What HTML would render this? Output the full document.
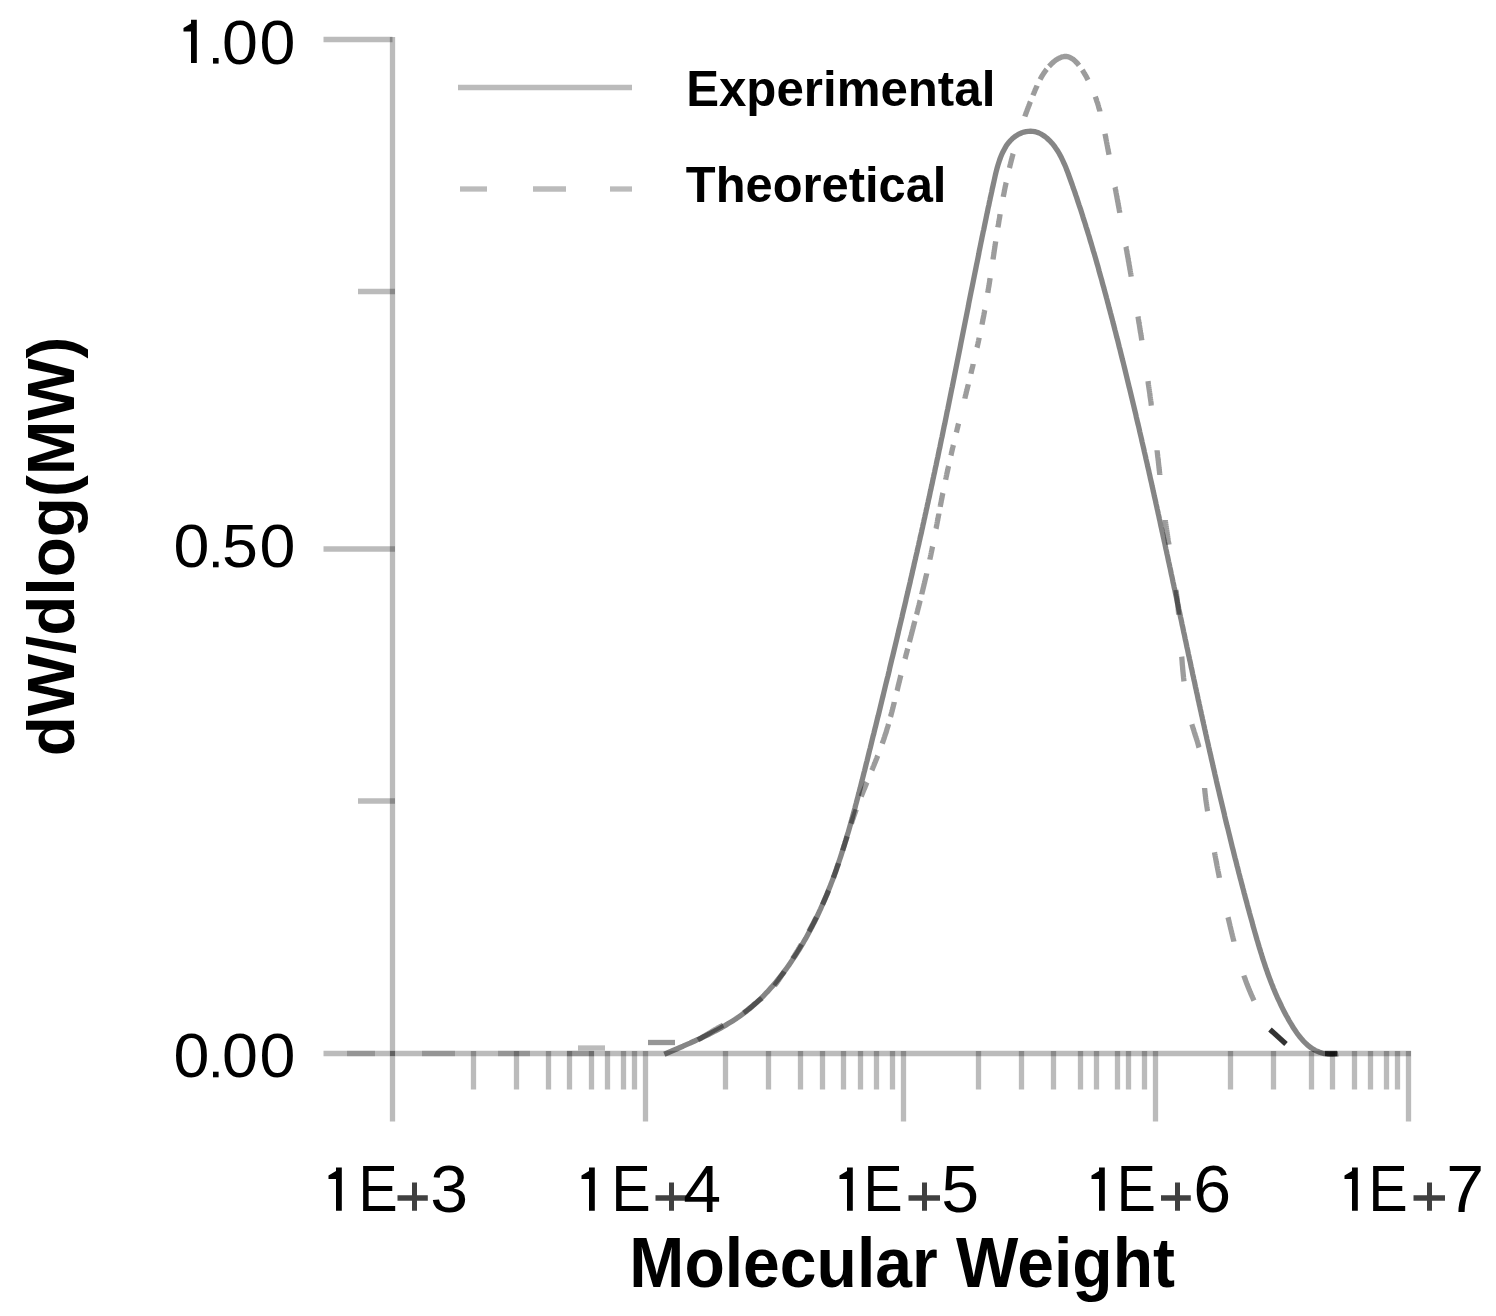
<!DOCTYPE html>
<html><head><meta charset="utf-8"><style>
html,body{margin:0;padding:0;background:#fff;}
svg{display:block;}
text{font-family:"Liberation Sans",sans-serif;fill:#000;}
.n{font-weight:normal;}
.b{font-weight:bold;}
</style></head><body>
<svg width="1496" height="1316" viewBox="0 0 1496 1316">
<rect width="1496" height="1316" fill="#fff"/>
<line x1="392.5" y1="37" x2="392.5" y2="1121.5" stroke="#000" stroke-opacity="0.267" stroke-width="5.3"/>
<line x1="323.5" y1="1053.5" x2="1411" y2="1053.5" stroke="#000" stroke-opacity="0.267" stroke-width="5.3"/>
<line x1="323.5" y1="39.5" x2="392.5" y2="39.5" stroke="#000" stroke-opacity="0.267" stroke-width="5.3"/>
<line x1="323.5" y1="549" x2="395" y2="549" stroke="#000" stroke-opacity="0.267" stroke-width="5.3"/>
<line x1="358" y1="291.5" x2="395" y2="291.5" stroke="#000" stroke-opacity="0.267" stroke-width="5.3"/>
<line x1="358" y1="801" x2="395" y2="801" stroke="#000" stroke-opacity="0.267" stroke-width="5.3"/>
<line x1="645.5" y1="1051" x2="645.5" y2="1121.5" stroke="#000" stroke-opacity="0.267" stroke-width="5.3"/>
<line x1="903.5" y1="1051" x2="903.5" y2="1121.5" stroke="#000" stroke-opacity="0.267" stroke-width="5.3"/>
<line x1="1155.5" y1="1051" x2="1155.5" y2="1121.5" stroke="#000" stroke-opacity="0.267" stroke-width="5.3"/>
<line x1="1408.5" y1="1051" x2="1408.5" y2="1121.5" stroke="#000" stroke-opacity="0.267" stroke-width="5.3"/>
<rect x="390" y="1051" width="5" height="5" fill="#606060"/>
<line x1="473.5" y1="1051" x2="473.5" y2="1089.5" stroke="#000" stroke-opacity="0.267" stroke-width="5.3"/>
<line x1="516.5" y1="1051" x2="516.5" y2="1089.5" stroke="#000" stroke-opacity="0.267" stroke-width="5.3"/>
<line x1="548.5" y1="1051" x2="548.5" y2="1089.5" stroke="#000" stroke-opacity="0.267" stroke-width="5.3"/>
<line x1="569.5" y1="1051" x2="569.5" y2="1089.5" stroke="#000" stroke-opacity="0.267" stroke-width="5.3"/>
<line x1="591.5" y1="1051" x2="591.5" y2="1089.5" stroke="#000" stroke-opacity="0.267" stroke-width="5.3"/>
<line x1="607.5" y1="1051" x2="607.5" y2="1089.5" stroke="#000" stroke-opacity="0.267" stroke-width="5.3"/>
<line x1="623.5" y1="1051" x2="623.5" y2="1089.5" stroke="#000" stroke-opacity="0.267" stroke-width="5.3"/>
<line x1="634.5" y1="1051" x2="634.5" y2="1089.5" stroke="#000" stroke-opacity="0.267" stroke-width="5.3"/>
<line x1="725.5" y1="1051" x2="725.5" y2="1089.5" stroke="#000" stroke-opacity="0.267" stroke-width="5.3"/>
<line x1="768.5" y1="1051" x2="768.5" y2="1089.5" stroke="#000" stroke-opacity="0.267" stroke-width="5.3"/>
<line x1="800.5" y1="1051" x2="800.5" y2="1089.5" stroke="#000" stroke-opacity="0.267" stroke-width="5.3"/>
<line x1="822.5" y1="1051" x2="822.5" y2="1089.5" stroke="#000" stroke-opacity="0.267" stroke-width="5.3"/>
<line x1="843.5" y1="1051" x2="843.5" y2="1089.5" stroke="#000" stroke-opacity="0.267" stroke-width="5.3"/>
<line x1="860.5" y1="1051" x2="860.5" y2="1089.5" stroke="#000" stroke-opacity="0.267" stroke-width="5.3"/>
<line x1="876.5" y1="1051" x2="876.5" y2="1089.5" stroke="#000" stroke-opacity="0.267" stroke-width="5.3"/>
<line x1="892.5" y1="1051" x2="892.5" y2="1089.5" stroke="#000" stroke-opacity="0.267" stroke-width="5.3"/>
<line x1="978.5" y1="1051" x2="978.5" y2="1089.5" stroke="#000" stroke-opacity="0.267" stroke-width="5.3"/>
<line x1="1021.5" y1="1051" x2="1021.5" y2="1089.5" stroke="#000" stroke-opacity="0.267" stroke-width="5.3"/>
<line x1="1053.5" y1="1051" x2="1053.5" y2="1089.5" stroke="#000" stroke-opacity="0.267" stroke-width="5.3"/>
<line x1="1080.5" y1="1051" x2="1080.5" y2="1089.5" stroke="#000" stroke-opacity="0.267" stroke-width="5.3"/>
<line x1="1096.5" y1="1051" x2="1096.5" y2="1089.5" stroke="#000" stroke-opacity="0.267" stroke-width="5.3"/>
<line x1="1117.5" y1="1051" x2="1117.5" y2="1089.5" stroke="#000" stroke-opacity="0.267" stroke-width="5.3"/>
<line x1="1128.5" y1="1051" x2="1128.5" y2="1089.5" stroke="#000" stroke-opacity="0.267" stroke-width="5.3"/>
<line x1="1144.5" y1="1051" x2="1144.5" y2="1089.5" stroke="#000" stroke-opacity="0.267" stroke-width="5.3"/>
<line x1="1230.5" y1="1051" x2="1230.5" y2="1089.5" stroke="#000" stroke-opacity="0.267" stroke-width="5.3"/>
<line x1="1273.5" y1="1051" x2="1273.5" y2="1089.5" stroke="#000" stroke-opacity="0.267" stroke-width="5.3"/>
<line x1="1311.5" y1="1051" x2="1311.5" y2="1089.5" stroke="#000" stroke-opacity="0.267" stroke-width="5.3"/>
<line x1="1332.5" y1="1051" x2="1332.5" y2="1089.5" stroke="#000" stroke-opacity="0.267" stroke-width="5.3"/>
<line x1="1354.5" y1="1051" x2="1354.5" y2="1089.5" stroke="#000" stroke-opacity="0.267" stroke-width="5.3"/>
<line x1="1370.5" y1="1051" x2="1370.5" y2="1089.5" stroke="#000" stroke-opacity="0.267" stroke-width="5.3"/>
<line x1="1386.5" y1="1051" x2="1386.5" y2="1089.5" stroke="#000" stroke-opacity="0.267" stroke-width="5.3"/>
<line x1="1397.5" y1="1051" x2="1397.5" y2="1089.5" stroke="#000" stroke-opacity="0.267" stroke-width="5.3"/>
<line x1="458" y1="87.5" x2="632" y2="87.5" stroke="#000" stroke-opacity="0.267" stroke-width="5.3"/>
<line x1="460" y1="189" x2="487" y2="189" stroke="#000" stroke-opacity="0.267" stroke-width="5.3"/>
<line x1="533" y1="189" x2="566" y2="189" stroke="#000" stroke-opacity="0.267" stroke-width="5.3"/>
<line x1="610" y1="189" x2="632" y2="189" stroke="#000" stroke-opacity="0.267" stroke-width="5.3"/>
<path d="M664.3,1054.2 L666.7,1053.2 L669.0,1052.2 L671.3,1051.2 L673.6,1050.2 L676.0,1049.2 L678.3,1048.2 L680.6,1047.2 L683.0,1046.2 L685.3,1045.1 L687.6,1044.1 L690.0,1043.1 L692.3,1042.0 L694.6,1041.0 L696.9,1039.9 L699.2,1038.9 L701.5,1037.8 L703.8,1036.7 L706.1,1035.6 L708.4,1034.5 L710.6,1033.4 L712.9,1032.2 L715.1,1031.0 L717.4,1029.9 L719.6,1028.7 L721.8,1027.4 L724.0,1026.2 L726.2,1024.9 L728.3,1023.6 L730.5,1022.3 L732.6,1021.0 L734.7,1019.6 L736.8,1018.2 L738.8,1016.8 L740.9,1015.3 L742.9,1013.9 L744.9,1012.3 L746.9,1010.8 L748.9,1009.2 L750.8,1007.6 L752.7,1006.0 L754.6,1004.3 L756.5,1002.6 L758.3,1000.9 L760.2,999.1 L762.0,997.4 L763.8,995.6 L765.5,993.7 L767.3,991.9 L769.0,990.0 L770.7,988.1 L772.4,986.2 L774.1,984.3 L775.7,982.4 L777.3,980.4 L778.9,978.4 L780.5,976.4 L782.1,974.4 L783.6,972.4 L785.1,970.3 L786.6,968.3 L788.1,966.2 L789.6,964.1 L791.0,962.0 L792.4,959.9 L793.8,957.8 L795.2,955.7 L796.6,953.6 L798.0,951.4 L799.3,949.3 L800.6,947.1 L801.9,944.9 L803.2,942.8 L804.4,940.6 L805.7,938.4 L806.9,936.2 L808.1,934.0 L809.3,931.8 L810.5,929.5 L811.7,927.3 L812.8,925.0 L814.0,922.8 L815.1,920.5 L816.2,918.3 L817.3,916.0 L818.4,913.7 L819.4,911.4 L820.5,909.1 L821.5,906.8 L822.5,904.5 L823.5,902.2 L824.5,899.9 L825.5,897.5 L826.5,895.2 L827.5,892.9 L828.4,890.5 L829.3,888.2 L830.3,885.8 L831.2,883.4 L832.1,881.1 L833.0,878.7 L833.8,876.3 L834.7,873.9 L835.6,871.5 L836.4,869.1 L837.2,866.7 L838.1,864.3 L838.9,861.9 L839.7,859.5 L840.5,857.1 L841.3,854.6 L842.1,852.2 L842.8,849.8 L843.6,847.3 L844.4,844.9 L845.1,842.4 L845.9,840.0 L846.6,837.5 L847.3,835.1 L848.1,832.6 L848.8,830.2 L849.5,827.7 L850.2,825.2 L850.9,822.8 L851.6,820.3 L852.3,817.8 L852.9,815.4 L853.6,812.9 L854.3,810.4 L855.0,807.9 L855.6,805.4 L856.3,802.9 L856.9,800.5 L857.6,798.0 L858.2,795.5 L858.9,793.0 L859.5,790.5 L860.2,788.0 L860.8,785.5 L861.4,783.0 L862.1,780.5 L862.7,778.0 L863.3,775.6 L863.9,773.1 L864.6,770.6 L865.2,768.1 L865.8,765.6 L866.4,763.1 L867.1,760.6 L867.7,758.1 L868.3,755.6 L868.9,753.1 L869.5,750.6 L870.2,748.1 L870.8,745.7 L871.4,743.2 L872.0,740.7 L872.6,738.2 L873.2,735.7 L873.9,733.2 L874.5,730.7 L875.1,728.2 L875.7,725.8 L876.3,723.3 L876.9,720.8 L877.5,718.3 L878.2,715.8 L878.8,713.3 L879.4,710.9 L880.0,708.4 L880.6,705.9 L881.2,703.4 L881.8,700.9 L882.4,698.4 L883.0,696.0 L883.6,693.5 L884.2,691.0 L884.8,688.5 L885.4,686.0 L886.0,683.5 L886.6,681.1 L887.2,678.6 L887.9,676.1 L888.5,673.6 L889.1,671.1 L889.6,668.7 L890.2,666.2 L890.8,663.7 L891.4,661.2 L892.0,658.7 L892.6,656.3 L893.2,653.8 L893.8,651.3 L894.4,648.8 L895.0,646.3 L895.6,643.8 L896.2,641.4 L896.8,638.9 L897.4,636.4 L898.0,633.9 L898.5,631.4 L899.1,629.0 L899.7,626.5 L900.3,624.0 L900.9,621.5 L901.5,619.0 L902.1,616.6 L902.6,614.1 L903.2,611.6 L903.8,609.1 L904.4,606.6 L905.0,604.2 L905.6,601.7 L906.1,599.2 L906.7,596.7 L907.3,594.2 L907.9,591.7 L908.4,589.3 L909.0,586.8 L909.6,584.3 L910.2,581.8 L910.7,579.3 L911.3,576.8 L911.9,574.4 L912.4,571.9 L913.0,569.4 L913.6,566.9 L914.1,564.4 L914.7,561.9 L915.3,559.4 L915.8,557.0 L916.4,554.5 L917.0,552.0 L917.5,549.5 L918.1,547.0 L918.7,544.5 L919.2,542.0 L919.8,539.5 L920.3,537.0 L920.9,534.6 L921.5,532.1 L922.0,529.6 L922.6,527.1 L923.1,524.6 L923.7,522.1 L924.2,519.6 L924.8,517.1 L925.3,514.6 L925.9,512.1 L926.4,509.6 L927.0,507.1 L927.5,504.6 L928.1,502.1 L928.6,499.6 L929.2,497.2 L929.7,494.7 L930.2,492.2 L930.8,489.7 L931.3,487.2 L931.9,484.7 L932.4,482.2 L932.9,479.7 L933.5,477.1 L934.0,474.6 L934.6,472.1 L935.1,469.6 L935.6,467.1 L936.2,464.6 L936.7,462.1 L937.2,459.6 L937.8,457.1 L938.3,454.6 L938.8,452.1 L939.3,449.6 L939.9,447.1 L940.4,444.6 L940.9,442.0 L941.4,439.5 L942.0,437.0 L942.5,434.5 L943.0,432.0 L943.5,429.5 L944.0,426.9 L944.6,424.4 L945.1,421.9 L945.6,419.4 L946.1,416.9 L946.6,414.4 L947.1,411.8 L947.7,409.3 L948.2,406.8 L948.7,404.3 L949.2,401.8 L949.7,399.2 L950.2,396.7 L950.7,394.2 L951.2,391.7 L951.7,389.2 L952.3,386.6 L952.8,384.1 L953.3,381.6 L953.8,379.1 L954.3,376.6 L954.8,374.0 L955.3,371.5 L955.8,369.0 L956.3,366.5 L956.8,364.0 L957.3,361.4 L957.8,358.9 L958.3,356.4 L958.8,353.9 L959.3,351.4 L959.8,348.9 L960.3,346.4 L960.8,343.8 L961.3,341.3 L961.8,338.8 L962.3,336.3 L962.8,333.8 L963.3,331.3 L963.8,328.8 L964.3,326.3 L964.8,323.8 L965.3,321.3 L965.8,318.8 L966.3,316.3 L966.8,313.8 L967.3,311.3 L967.8,308.8 L968.3,306.3 L968.7,303.8 L969.2,301.3 L969.7,298.8 L970.2,296.3 L970.7,293.8 L971.2,291.3 L971.7,288.9 L972.2,286.4 L972.7,283.9 L973.2,281.4 L973.7,278.9 L974.2,276.5 L974.7,274.0 L975.2,271.5 L975.7,269.1 L976.2,266.6 L976.7,264.1 L977.2,261.7 L977.7,259.2 L978.2,256.7 L978.7,254.3 L979.1,251.8 L979.6,249.4 L980.1,246.9 L980.6,244.5 L981.1,242.0 L981.6,239.6 L982.1,237.1 L982.6,234.7 L983.1,232.2 L983.7,229.8 L984.2,227.3 L984.7,224.8 L985.2,222.4 L985.7,219.9 L986.2,217.4 L986.7,214.9 L987.3,212.4 L987.8,209.8 L988.3,207.3 L988.9,204.8 L989.4,202.2 L990.0,199.6 L990.5,197.1 L991.1,194.5 L991.7,191.8 L992.2,189.2 L992.8,186.6 L993.4,183.9 L994.0,181.2 L994.6,178.5 L995.2,175.8 L995.8,173.1 L996.5,170.4 L997.2,167.8 L998.0,165.1 L998.8,162.5 L999.6,160.0 L1000.5,157.5 L1001.5,155.1 L1002.5,152.7 L1003.7,150.4 L1004.9,148.2 L1006.1,146.1 L1007.5,144.1 L1009.0,142.2 L1010.5,140.5 L1012.2,138.8 L1014.0,137.3 L1015.8,135.9 L1017.8,134.7 L1019.8,133.7 L1021.9,132.8 L1024.0,132.1 L1026.1,131.6 L1028.3,131.3 L1030.5,131.2 L1032.6,131.3 L1034.8,131.6 L1036.9,132.2 L1039.0,133.0 L1041.0,134.0 L1043.0,135.2 L1044.9,136.5 L1046.8,138.0 L1048.6,139.7 L1050.4,141.4 L1052.0,143.2 L1053.6,145.2 L1055.1,147.2 L1056.5,149.2 L1057.9,151.3 L1059.2,153.5 L1060.4,155.8 L1061.6,158.1 L1062.7,160.4 L1063.8,162.8 L1064.9,165.2 L1065.9,167.6 L1066.8,170.0 L1067.8,172.5 L1068.7,175.0 L1069.6,177.5 L1070.5,180.0 L1071.4,182.5 L1072.3,185.0 L1073.1,187.5 L1074.0,189.9 L1074.9,192.4 L1075.7,194.9 L1076.6,197.4 L1077.4,199.9 L1078.2,202.3 L1079.0,204.8 L1079.9,207.3 L1080.7,209.7 L1081.5,212.2 L1082.3,214.7 L1083.0,217.1 L1083.8,219.6 L1084.6,222.0 L1085.4,224.5 L1086.1,227.0 L1086.9,229.4 L1087.7,231.9 L1088.4,234.3 L1089.2,236.8 L1089.9,239.2 L1090.6,241.7 L1091.4,244.1 L1092.1,246.6 L1092.8,249.0 L1093.5,251.5 L1094.3,253.9 L1095.0,256.4 L1095.7,258.8 L1096.4,261.2 L1097.1,263.7 L1097.8,266.1 L1098.5,268.6 L1099.1,271.0 L1099.8,273.5 L1100.5,275.9 L1101.2,278.4 L1101.9,280.8 L1102.5,283.3 L1103.2,285.7 L1103.9,288.1 L1104.5,290.6 L1105.2,293.0 L1105.9,295.5 L1106.5,297.9 L1107.2,300.4 L1107.8,302.8 L1108.5,305.3 L1109.1,307.8 L1109.8,310.2 L1110.4,312.7 L1111.1,315.1 L1111.7,317.6 L1112.4,320.0 L1113.0,322.5 L1113.7,325.0 L1114.3,327.4 L1114.9,329.9 L1115.6,332.4 L1116.2,334.8 L1116.8,337.3 L1117.5,339.7 L1118.1,342.2 L1118.7,344.7 L1119.3,347.2 L1120.0,349.6 L1120.6,352.1 L1121.2,354.6 L1121.8,357.0 L1122.4,359.5 L1123.1,362.0 L1123.7,364.5 L1124.3,366.9 L1124.9,369.4 L1125.5,371.9 L1126.1,374.4 L1126.7,376.8 L1127.3,379.3 L1127.9,381.8 L1128.5,384.3 L1129.1,386.8 L1129.7,389.2 L1130.3,391.7 L1130.9,394.2 L1131.5,396.7 L1132.1,399.2 L1132.7,401.7 L1133.3,404.1 L1133.9,406.6 L1134.5,409.1 L1135.1,411.6 L1135.7,414.1 L1136.2,416.6 L1136.8,419.1 L1137.4,421.6 L1138.0,424.0 L1138.6,426.5 L1139.2,429.0 L1139.7,431.5 L1140.3,434.0 L1140.9,436.5 L1141.5,439.0 L1142.0,441.5 L1142.6,444.0 L1143.2,446.5 L1143.8,449.0 L1144.3,451.5 L1144.9,454.0 L1145.5,456.5 L1146.0,459.0 L1146.6,461.5 L1147.2,464.0 L1147.7,466.4 L1148.3,468.9 L1148.9,471.4 L1149.4,473.9 L1150.0,476.4 L1150.5,478.9 L1151.1,481.4 L1151.7,483.9 L1152.2,486.4 L1152.8,488.9 L1153.3,491.4 L1153.9,493.9 L1154.4,496.4 L1155.0,498.9 L1155.6,501.4 L1156.1,504.0 L1156.7,506.5 L1157.2,509.0 L1157.8,511.5 L1158.3,514.0 L1158.9,516.5 L1159.4,519.0 L1160.0,521.5 L1160.5,524.0 L1161.0,526.5 L1161.6,529.0 L1162.1,531.5 L1162.7,534.0 L1163.2,536.5 L1163.8,539.0 L1164.3,541.5 L1164.9,544.0 L1165.4,546.5 L1165.9,549.0 L1166.5,551.5 L1167.0,554.0 L1167.6,556.5 L1168.1,559.0 L1168.6,561.5 L1169.2,564.0 L1169.7,566.5 L1170.3,569.0 L1170.8,571.6 L1171.3,574.1 L1171.9,576.6 L1172.4,579.1 L1172.9,581.6 L1173.5,584.1 L1174.0,586.6 L1174.6,589.1 L1175.1,591.6 L1175.6,594.1 L1176.2,596.6 L1176.7,599.1 L1177.2,601.6 L1177.8,604.1 L1178.3,606.6 L1178.8,609.1 L1179.4,611.6 L1179.9,614.1 L1180.4,616.6 L1181.0,619.1 L1181.5,621.6 L1182.0,624.1 L1182.6,626.6 L1183.1,629.1 L1183.6,631.6 L1184.2,634.1 L1184.7,636.6 L1185.2,639.1 L1185.8,641.6 L1186.3,644.1 L1186.8,646.6 L1187.4,649.1 L1187.9,651.6 L1188.4,654.1 L1189.0,656.6 L1189.5,659.1 L1190.1,661.6 L1190.6,664.1 L1191.1,666.6 L1191.7,669.1 L1192.2,671.6 L1192.7,674.1 L1193.3,676.6 L1193.8,679.1 L1194.4,681.6 L1194.9,684.1 L1195.4,686.6 L1196.0,689.1 L1196.5,691.6 L1197.1,694.1 L1197.6,696.6 L1198.1,699.1 L1198.7,701.6 L1199.2,704.1 L1199.8,706.6 L1200.3,709.1 L1200.9,711.6 L1201.4,714.1 L1202.0,716.6 L1202.5,719.1 L1203.1,721.5 L1203.6,724.0 L1204.2,726.5 L1204.7,729.0 L1205.3,731.5 L1205.8,734.0 L1206.4,736.5 L1206.9,739.0 L1207.5,741.5 L1208.1,744.0 L1208.6,746.5 L1209.2,749.0 L1209.7,751.4 L1210.3,753.9 L1210.9,756.4 L1211.4,758.9 L1212.0,761.4 L1212.6,763.9 L1213.1,766.4 L1213.7,768.9 L1214.3,771.4 L1214.8,773.8 L1215.4,776.3 L1216.0,778.8 L1216.5,781.3 L1217.1,783.8 L1217.7,786.3 L1218.3,788.8 L1218.9,791.3 L1219.4,793.7 L1220.0,796.2 L1220.6,798.7 L1221.2,801.2 L1221.8,803.7 L1222.4,806.2 L1223.0,808.6 L1223.6,811.1 L1224.2,813.6 L1224.7,816.1 L1225.3,818.6 L1225.9,821.1 L1226.5,823.5 L1227.1,826.0 L1227.8,828.5 L1228.4,831.0 L1229.0,833.5 L1229.6,835.9 L1230.2,838.4 L1230.8,840.9 L1231.4,843.4 L1232.0,845.9 L1232.6,848.3 L1233.3,850.8 L1233.9,853.3 L1234.5,855.8 L1235.1,858.2 L1235.8,860.7 L1236.4,863.2 L1237.0,865.7 L1237.7,868.1 L1238.3,870.6 L1238.9,873.1 L1239.6,875.6 L1240.2,878.0 L1240.9,880.5 L1241.5,883.0 L1242.2,885.5 L1242.8,887.9 L1243.5,890.4 L1244.1,892.9 L1244.8,895.3 L1245.4,897.8 L1246.1,900.3 L1246.8,902.8 L1247.4,905.2 L1248.1,907.7 L1248.8,910.2 L1249.4,912.6 L1250.1,915.1 L1250.8,917.6 L1251.5,920.0 L1252.2,922.5 L1252.8,925.0 L1253.5,927.4 L1254.2,929.9 L1254.9,932.4 L1255.6,934.8 L1256.3,937.3 L1257.0,939.7 L1257.8,942.2 L1258.5,944.7 L1259.2,947.1 L1260.0,949.6 L1260.7,952.0 L1261.5,954.4 L1262.2,956.9 L1263.0,959.3 L1263.8,961.8 L1264.6,964.2 L1265.4,966.6 L1266.2,969.0 L1267.1,971.4 L1267.9,973.8 L1268.8,976.2 L1269.7,978.6 L1270.6,981.0 L1271.5,983.4 L1272.5,985.8 L1273.4,988.2 L1274.4,990.5 L1275.4,992.9 L1276.4,995.2 L1277.4,997.6 L1278.5,999.9 L1279.6,1002.2 L1280.7,1004.5 L1281.8,1006.9 L1282.9,1009.1 L1284.1,1011.4 L1285.3,1013.7 L1286.5,1016.0 L1287.8,1018.2 L1289.0,1020.5 L1290.3,1022.7 L1291.7,1024.9 L1293.0,1027.2 L1294.4,1029.3 L1295.9,1031.5 L1297.3,1033.6 L1298.9,1035.6 L1300.4,1037.6 L1302.1,1039.5 L1303.7,1041.4 L1305.5,1043.1 L1307.3,1044.8 L1309.2,1046.3 L1311.1,1047.8 L1313.1,1049.1 L1315.2,1050.3 L1317.4,1051.3 L1319.7,1052.2 L1322.0,1053.0 L1324.4,1053.6 L1327.0,1054.0 L1329.6,1054.3 L1332.4,1054.3 L1335.2,1054.2 L1338.2,1053.8" fill="none" stroke="#000" stroke-opacity="0.48" stroke-width="5.3" stroke-linejoin="round"/>
<path d="M347,1053.5 H375 M422,1053.5 H455 M498,1053.5 H530 M567,1053.5 H594" fill="none" stroke="#000" stroke-opacity="0.2" stroke-width="5.3"/>
<path d="M578,1048 H605" fill="none" stroke="#848484" stroke-opacity="0.55" stroke-width="5.3"/>
<path d="M648,1042.5 H675" fill="none" stroke="#848484" stroke-opacity="0.85" stroke-width="5.3"/>
<path d="M1049.0,66.4 L1049.5,65.9 L1050.0,65.3 L1050.5,64.8 L1051.0,64.3 L1051.5,63.8 L1052.1,63.3 L1052.6,62.8 L1053.1,62.4 L1053.6,61.9 L1054.2,61.5 L1054.7,61.0 L1055.2,60.6 L1055.8,60.2 L1056.3,59.8 L1056.8,59.5 L1057.4,59.2 L1057.9,58.8 L1058.5,58.5 L1059.0,58.2 L1059.6,58.0 L1060.1,57.7 L1060.7,57.5 L1061.2,57.3 L1061.7,57.1 L1062.3,56.9 L1062.8,56.8 L1063.4,56.7 L1063.9,56.6 L1064.4,56.5 L1065.0,56.5 L1065.5,56.5 L1066.0,56.5 L1066.6,56.5 L1067.1,56.6 L1067.6,56.7 L1068.1,56.8 L1068.6,57.0 L1069.1,57.1 L1069.7,57.3 L1070.2,57.6 L1070.6,57.8 L1071.1,58.1 L1071.6,58.3 L1072.1,58.7 L1072.6,59.0 L1073.1,59.3 L1073.6,59.7 L1074.0,60.1 L1074.5,60.5 L1075.0,60.9 L1075.4,61.3 L1075.9,61.8 L1076.3,62.3 L1076.8,62.7 L1077.2,63.2 L1077.7,63.7 L1078.1,64.3 L1078.6,64.8 L1079.0,65.3 M1040.1,79.5 L1040.4,78.9 L1040.7,78.3 L1041.1,77.7 L1041.4,77.0 L1041.8,76.4 L1042.1,75.8 L1042.5,75.2 L1042.9,74.6 L1043.3,74.0 L1043.7,73.4 L1044.1,72.8 L1044.5,72.2 L1044.9,71.6 L1045.3,71.0 L1045.8,70.4 L1046.2,69.8 L1046.7,69.2 M1033.0,95.4 L1033.2,94.8 L1033.5,94.1 L1033.7,93.5 L1034.0,92.9 L1034.2,92.3 L1034.5,91.7 L1034.7,91.1 L1035.0,90.4 L1035.3,89.8 L1035.5,89.2 L1035.8,88.6 L1036.1,88.0 L1036.3,87.4 L1036.6,86.8 L1036.9,86.2 L1037.1,85.6 M1024.8,116.6 L1025.0,115.9 L1025.3,115.3 L1025.5,114.7 L1025.7,114.1 L1026.0,113.4 L1026.2,112.8 L1026.4,112.2 L1026.6,111.5 L1026.9,110.9 L1027.1,110.3 L1027.3,109.7 L1027.6,109.0 L1027.8,108.4 L1028.1,107.8 L1028.3,107.2 L1028.5,106.5 L1028.8,105.9 L1029.0,105.3 L1029.3,104.7 L1029.5,104.0 L1029.7,103.4 L1030.0,102.8 L1030.2,102.2 L1030.5,101.6 M1009.4,168.0 L1009.6,167.3 L1009.8,166.7 L1009.9,166.0 L1010.1,165.4 L1010.2,164.7 L1010.4,164.1 L1010.6,163.4 L1010.7,162.8 L1010.9,162.1 L1011.1,161.5 L1011.2,160.8 L1011.4,160.2 L1011.6,159.5 L1011.7,158.9 L1011.9,158.2 L1012.1,157.6 L1012.2,156.9 L1012.4,156.3 L1012.6,155.6 L1012.8,155.0 L1012.9,154.3 L1013.1,153.7 M1003.3,196.9 L1003.4,196.3 L1003.5,195.6 L1003.6,194.9 L1003.8,194.3 L1003.9,193.6 L1004.0,193.0 L1004.2,192.3 L1004.3,191.6 L1004.4,191.0 L1004.5,190.3 L1004.7,189.7 L1004.8,189.0 L1004.9,188.3 L1005.1,187.7 L1005.2,187.0 L1005.3,186.4 L1005.5,185.7 L1005.6,185.0 L1005.8,184.4 L1005.9,183.7 L1006.0,183.1 L1006.2,182.4 M997.9,227.4 L998.0,226.8 L998.1,226.1 L998.3,225.4 L998.4,224.8 L998.5,224.1 L998.6,223.5 L998.7,222.8 L998.8,222.1 L998.9,221.5 L999.0,220.8 L999.1,220.1 L999.2,219.5 L999.4,218.8 L999.5,218.1 L999.6,217.5 L999.7,216.8 L999.8,216.1 L999.9,215.5 L1000.0,214.8 L1000.1,214.1 M993.0,259.5 L993.1,258.8 L993.2,258.1 L993.3,257.5 L993.4,256.8 L993.5,256.1 L993.6,255.5 L993.7,254.8 L993.8,254.1 L993.9,253.4 L994.0,252.8 L994.1,252.1 L994.2,251.4 L994.3,250.8 L994.4,250.1 L994.5,249.4 L994.6,248.8 L994.7,248.1 L994.8,247.4 L994.9,246.8 L995.0,246.1 L995.1,245.4 L995.2,244.8 L995.3,244.1 L995.4,243.4 L995.5,242.8 L995.6,242.1 L995.7,241.4 M987.8,292.8 L987.9,292.1 L988.0,291.5 L988.1,290.8 L988.2,290.1 L988.3,289.5 L988.4,288.8 L988.5,288.1 L988.6,287.5 L988.8,286.8 L988.9,286.1 L989.0,285.5 L989.1,284.8 L989.2,284.1 L989.3,283.5 L989.4,282.8 L989.5,282.1 L989.6,281.5 L989.7,280.8 L989.8,280.1 L989.9,279.5 L990.0,278.8 L990.1,278.1 M982.0,324.6 L982.1,323.9 L982.2,323.3 L982.4,322.6 L982.5,322.0 L982.6,321.3 L982.8,320.6 L982.9,320.0 L983.0,319.3 L983.1,318.7 L983.3,318.0 L983.4,317.3 L983.5,316.7 L983.7,316.0 L983.8,315.3 L983.9,314.7 L984.0,314.0 L984.2,313.4 L984.3,312.7 L984.4,312.0 L984.5,311.4 L984.6,310.7 L984.8,310.0 M977.0,347.6 L977.2,347.0 L977.3,346.3 L977.5,345.6 L977.6,345.0 L977.8,344.3 L977.9,343.7 L978.1,343.0 L978.2,342.4 L978.4,341.7 L978.5,341.1 L978.6,340.4 L978.8,339.7 L978.9,339.1 L979.1,338.4 L979.2,337.8 M970.9,373.8 L971.0,373.2 L971.2,372.5 L971.4,371.8 L971.5,371.2 L971.7,370.5 L971.8,369.9 L972.0,369.2 L972.1,368.6 L972.3,367.9 L972.5,367.3 L972.6,366.6 L972.8,366.0 L972.9,365.3 L973.1,364.7 L973.2,364.0 M964.8,398.6 L964.9,398.0 L965.1,397.3 L965.2,396.7 L965.4,396.0 L965.6,395.4 L965.7,394.7 L965.9,394.1 L966.1,393.4 L966.2,392.7 L966.4,392.1 L966.5,391.4 L966.7,390.8 L966.9,390.1 L967.0,389.5 L967.2,388.8 L967.4,388.2 L967.5,387.5 L967.7,386.9 L967.8,386.2 L968.0,385.6 L968.2,384.9 L968.3,384.3 M956.3,432.6 L956.5,431.9 L956.7,431.3 L956.8,430.6 L957.0,430.0 L957.1,429.3 L957.3,428.7 L957.5,428.0 L957.6,427.4 L957.8,426.7 L957.9,426.0 L958.1,425.4 L958.3,424.7 L958.4,424.1 L958.6,423.4 M950.9,455.5 L951.1,454.9 L951.2,454.2 L951.4,453.5 L951.5,452.9 L951.7,452.2 L951.8,451.6 L952.0,450.9 L952.1,450.3 L952.3,449.6 L952.4,449.0 L952.6,448.3 L952.7,447.6 L952.9,447.0 L953.1,446.3 L953.2,445.7 L953.4,445.0 M945.6,479.8 L945.7,479.2 L945.9,478.5 L946.0,477.9 L946.1,477.2 L946.3,476.5 L946.4,475.9 L946.6,475.2 L946.7,474.6 L946.8,473.9 L947.0,473.3 L947.1,472.6 L947.3,471.9 L947.4,471.3 L947.6,470.6 L947.7,470.0 L947.8,469.3 L948.0,468.7 L948.1,468.0 L948.3,467.3 L948.4,466.7 L948.6,466.0 M940.2,506.9 L940.3,506.2 L940.4,505.6 L940.5,504.9 L940.7,504.3 L940.8,503.6 L940.9,502.9 L941.1,502.3 L941.2,501.6 L941.3,500.9 L941.4,500.3 L941.6,499.6 L941.7,499.0 L941.8,498.3 L942.0,497.6 L942.1,497.0 L942.2,496.3 L942.3,495.7 L942.5,495.0 L942.6,494.3 L942.7,493.7 L942.9,493.0 M936.0,528.7 L936.2,528.0 L936.3,527.4 L936.4,526.7 L936.5,526.1 L936.7,525.4 L936.8,524.7 L936.9,524.1 L937.0,523.4 L937.2,522.7 L937.3,522.1 L937.4,521.4 L937.5,520.8 L937.7,520.1 L937.8,519.4 L937.9,518.8 L938.0,518.1 L938.2,517.5 L938.3,516.8 L938.4,516.1 L938.5,515.5 L938.7,514.8 L938.8,514.2 L938.9,513.5 M929.8,559.7 L929.9,559.0 L930.1,558.4 L930.2,557.7 L930.4,557.0 L930.5,556.4 L930.7,555.7 L930.8,555.1 L930.9,554.4 L931.1,553.7 L931.2,553.1 L931.3,552.4 L931.5,551.8 L931.6,551.1 L931.8,550.5 L931.9,549.8 L932.0,549.1 L932.2,548.5 L932.3,547.8 L932.4,547.2 L932.6,546.5 M921.7,594.4 L921.8,593.7 L922.0,593.1 L922.2,592.4 L922.3,591.8 L922.5,591.1 L922.7,590.5 L922.8,589.8 L923.0,589.2 L923.1,588.5 L923.3,587.8 L923.5,587.2 L923.6,586.5 L923.8,585.9 L923.9,585.2 L924.1,584.6 L924.2,583.9 L924.4,583.3 L924.6,582.6 L924.7,582.0 L924.9,581.3 L925.0,580.6 L925.2,580.0 L925.3,579.3 L925.5,578.7 L925.6,578.0 L925.8,577.4 L926.0,576.7 L926.1,576.1 L926.3,575.4 L926.4,574.8 L926.6,574.1 L926.7,573.4 M916.5,614.6 L916.7,614.0 L916.9,613.3 L917.1,612.7 L917.2,612.0 L917.4,611.4 L917.6,610.7 L917.7,610.0 L917.9,609.4 L918.1,608.7 L918.2,608.1 L918.4,607.4 L918.6,606.8 L918.7,606.1 L918.9,605.5 L919.1,604.8 L919.2,604.2 L919.4,603.5 L919.6,602.9 L919.7,602.2 L919.9,601.6 L920.0,600.9 L920.2,600.3 M909.4,642.0 L909.6,641.3 L909.7,640.7 L909.9,640.0 L910.1,639.4 L910.3,638.7 L910.4,638.1 L910.6,637.4 L910.8,636.8 L910.9,636.1 L911.1,635.5 L911.3,634.8 L911.5,634.2 L911.6,633.5 L911.8,632.9 L912.0,632.2 L912.1,631.6 L912.3,630.9 L912.5,630.3 L912.6,629.6 L912.8,629.0 L913.0,628.3 L913.2,627.6 L913.3,627.0 L913.5,626.3 L913.7,625.7 L913.8,625.0 L914.0,624.4 L914.2,623.7 L914.3,623.1 L914.5,622.4 L914.7,621.8 L914.9,621.1 M905.0,658.9 L905.2,658.3 L905.3,657.6 L905.5,657.0 L905.7,656.3 L905.8,655.7 L906.0,655.0 L906.2,654.4 L906.4,653.7 L906.5,653.1 L906.7,652.4 L906.9,651.8 L907.0,651.1 L907.2,650.5 L907.4,649.8 L907.5,649.2 L907.7,648.5 M897.0,690.9 L897.2,690.3 L897.4,689.6 L897.5,688.9 L897.7,688.3 L897.8,687.6 L898.0,687.0 L898.1,686.3 L898.3,685.7 L898.5,685.0 L898.6,684.4 L898.8,683.7 L898.9,683.1 L899.1,682.4 L899.3,681.8 L899.4,681.1 L899.6,680.5 L899.7,679.8 L899.9,679.1 L900.1,678.5 L900.2,677.8 L900.4,677.2 L900.5,676.5 L900.7,675.9 L900.9,675.2 M890.5,716.9 L890.7,716.3 L890.9,715.6 L891.0,715.0 L891.2,714.3 L891.4,713.7 L891.6,713.0 L891.7,712.4 L891.9,711.8 L892.1,711.1 L892.2,710.5 L892.4,709.8 L892.6,709.2 L892.7,708.5 L892.9,707.9 L893.1,707.2 L893.2,706.6 L893.4,705.9 L893.5,705.3 L893.7,704.6 L893.9,704.0 L894.0,703.3 L894.2,702.7 L894.3,702.0 M882.2,743.7 L882.4,743.1 L882.7,742.4 L882.9,741.8 L883.1,741.2 L883.3,740.6 L883.5,739.9 L883.8,739.3 L884.0,738.7 L884.2,738.0 L884.4,737.4 L884.6,736.8 L884.8,736.1 L885.0,735.5 L885.2,734.9 L885.4,734.2 L885.6,733.6 L885.9,733.0 L886.1,732.3 L886.3,731.7 L886.5,731.0 L886.7,730.4 L886.8,729.8 L887.0,729.1 L887.2,728.5 L887.4,727.9 L887.6,727.2 L887.8,726.6 L888.0,725.9 L888.2,725.3 L888.4,724.7 L888.6,724.0 M871.8,770.4 L872.1,769.8 L872.3,769.2 L872.6,768.6 L872.8,768.0 L873.1,767.3 L873.3,766.7 L873.6,766.1 L873.8,765.5 L874.1,764.9 L874.3,764.3 L874.6,763.6 L874.8,763.0 L875.1,762.4 L875.3,761.8 L875.6,761.2 L875.8,760.5 L876.1,759.9 L876.3,759.3 L876.6,758.7 L876.8,758.1 L877.1,757.4 L877.3,756.8 L877.5,756.2 L877.8,755.6 M861.2,796.5 L861.5,795.8 L861.7,795.2 L861.9,794.6 L862.2,794.0 L862.4,793.4 L862.7,792.7 L862.9,792.1 L863.2,791.5 L863.4,790.9 L863.7,790.3 L863.9,789.6 L864.2,789.0 L864.5,788.4 L864.7,787.8 L865.0,787.2 L865.2,786.5 L865.5,785.9 L865.7,785.3 L866.0,784.7 L866.2,784.1 L866.5,783.4 L866.7,782.8 L867.0,782.2 M851.3,823.6 L851.5,823.0 L851.8,822.3 L852.0,821.7 L852.2,821.0 L852.4,820.4 L852.6,819.8 L852.8,819.1 L853.1,818.5 L853.3,817.9 L853.5,817.2 L853.7,816.6 L853.9,816.0 L854.2,815.3 L854.4,814.7 L854.6,814.1 L854.8,813.4 L855.0,812.8 L855.3,812.2 L855.5,811.5 L855.7,810.9 L856.0,810.3 L856.2,809.6 M842.7,850.5 L842.9,849.9 L843.1,849.2 L843.3,848.6 L843.5,847.9 L843.7,847.3 L843.9,846.7 L844.1,846.0 L844.3,845.4 L844.5,844.7 L844.7,844.1 L844.9,843.5 L845.1,842.8 L845.3,842.2 L845.5,841.5 L845.7,840.9 L845.9,840.2 L846.1,839.6 L846.3,839.0 L846.6,838.3 L846.8,837.7 L847.0,837.0 L847.2,836.4 M833.5,877.9 L833.7,877.3 L833.9,876.7 L834.1,876.0 L834.4,875.4 L834.6,874.8 L834.8,874.1 L835.0,873.5 L835.3,872.9 L835.5,872.2 L835.7,871.6 L835.9,871.0 L836.2,870.3 L836.4,869.7 L836.6,869.1 L836.8,868.4 L837.0,867.8 L837.2,867.1 L837.5,866.5 L837.7,865.9 L837.9,865.2 L838.1,864.6 L838.3,864.0 L838.5,863.3 M822.5,904.6 L822.8,904.0 L823.1,903.4 L823.4,902.8 L823.6,902.1 L823.9,901.5 L824.2,900.9 L824.5,900.3 L824.7,899.7 L825.0,899.1 L825.3,898.5 L825.5,897.9 L825.8,897.2 L826.1,896.6 L826.3,896.0 L826.6,895.4 L826.9,894.8 L827.1,894.2 L827.4,893.5 L827.6,892.9 L827.9,892.3 L828.1,891.7 L828.4,891.1 L828.7,890.5 M808.8,931.4 L809.1,930.9 L809.5,930.3 L809.8,929.7 L810.1,929.1 L810.4,928.5 L810.7,927.9 L811.1,927.3 L811.4,926.7 L811.7,926.2 L812.0,925.6 L812.3,925.0 L812.7,924.4 L813.0,923.8 L813.3,923.2 L813.6,922.6 L813.9,922.0 L814.2,921.4 L814.5,920.8 L814.8,920.2 L815.1,919.6 L815.5,919.0 L815.8,918.4 L816.1,917.8 L816.4,917.2 M792.7,958.5 L793.0,958.0 L793.4,957.4 L793.8,956.8 L794.1,956.3 L794.5,955.7 L794.8,955.1 L795.2,954.5 L795.5,954.0 L795.9,953.4 L796.2,952.8 L796.6,952.3 L796.9,951.7 L797.3,951.1 L797.6,950.6 L798.0,950.0 L798.3,949.4 L798.7,948.8 L799.0,948.3 L799.4,947.7 L799.7,947.1 L800.1,946.5 L800.4,946.0 L800.8,945.4 L801.1,944.8 L801.4,944.2 M774.6,985.8 L775.0,985.2 L775.3,984.7 L775.7,984.2 L776.1,983.6 L776.5,983.1 L776.9,982.5 L777.3,982.0 L777.6,981.4 L778.0,980.9 L778.4,980.4 L778.8,979.8 L779.1,979.2 L779.5,978.7 L779.9,978.1 L780.3,977.6 L780.6,977.0 L781.0,976.5 L781.4,975.9 L781.7,975.4 L782.1,974.8 L782.5,974.2 L782.9,973.7 L783.2,973.1 L783.6,972.6 L784.0,972.0 L784.3,971.5 M743.6,1012.8 L744.2,1012.4 L744.7,1012.0 L745.2,1011.6 L745.8,1011.2 L746.3,1010.8 L746.8,1010.4 L747.4,1010.0 L747.9,1009.5 L748.4,1009.1 L748.9,1008.7 L749.5,1008.3 L750.0,1007.9 L750.5,1007.4 L751.0,1007.0 L751.5,1006.6 L752.1,1006.1 L752.6,1005.7 L753.1,1005.3 L753.6,1004.9 L754.1,1004.4 L754.7,1004.0 L755.2,1003.6 L755.7,1003.1 L756.2,1002.7 L756.7,1002.3 L757.3,1001.9 L757.8,1001.4 L758.3,1001.0 L758.8,1000.6 L759.4,1000.2 L759.9,999.8 L760.4,999.4 L760.9,999.0 L761.5,998.6 L762.0,998.2 M697.9,1040.0 L698.5,1039.6 L699.1,1039.3 L699.6,1038.9 L700.2,1038.6 L700.8,1038.2 L701.4,1037.9 L701.9,1037.5 L702.5,1037.2 L703.1,1036.9 L703.6,1036.5 L704.2,1036.2 L704.8,1035.8 L705.4,1035.5 L705.9,1035.1 L706.5,1034.8 L707.1,1034.4 L707.7,1034.1 L708.2,1033.7 L708.8,1033.4 L709.4,1033.0 L709.9,1032.7 L710.5,1032.3 L711.1,1032.0 L711.7,1031.6 L712.2,1031.3 L712.8,1030.9 L713.4,1030.6 L713.9,1030.3 L714.5,1029.9 L715.1,1029.6 L715.7,1029.3 L716.3,1028.9 L716.8,1028.6 L717.4,1028.3 L718.0,1027.9 L718.6,1027.6 L719.1,1027.3 L719.7,1027.0 L720.3,1026.6 L720.9,1026.3 L721.5,1026.0 L722.0,1025.7 L722.6,1025.4 L723.2,1025.1 M1082.3,70.0 L1082.7,70.6 L1083.1,71.2 L1083.4,71.8 L1083.8,72.4 L1084.2,73.1 L1084.6,73.7 L1084.9,74.3 L1085.3,74.9 L1085.7,75.6 L1086.0,76.2 L1086.4,76.8 L1086.7,77.5 L1087.0,78.1 L1087.4,78.7 L1087.7,79.4 L1088.0,80.0 M1095.3,96.6 L1095.5,97.2 L1095.7,97.9 L1096.0,98.5 L1096.2,99.2 L1096.4,99.8 L1096.6,100.4 L1096.8,101.1 L1097.0,101.7 L1097.3,102.4 L1097.5,103.0 L1097.7,103.7 L1097.9,104.3 L1098.1,105.0 L1098.3,105.6 L1098.5,106.3 L1098.6,106.9 L1098.8,107.6 L1099.0,108.2 L1099.2,108.9 L1099.4,109.5 L1099.6,110.2 L1099.8,110.8 L1099.9,111.5 M1105.0,133.7 L1105.1,134.3 L1105.2,135.0 L1105.4,135.7 L1105.5,136.3 L1105.6,137.0 L1105.7,137.6 L1105.9,138.3 L1106.0,138.9 L1106.1,139.6 L1106.2,140.3 L1106.4,140.9 L1106.5,141.6 L1106.6,142.2 L1106.7,142.9 L1106.9,143.6 L1107.0,144.2 L1107.1,144.9 L1107.2,145.5 L1107.4,146.2 L1107.5,146.8 L1107.6,147.5 L1107.7,148.2 L1107.9,148.8 L1108.0,149.5 L1108.1,150.1 L1108.2,150.8 L1108.4,151.4 L1108.5,152.1 L1108.6,152.8 L1108.7,153.4 L1108.9,154.1 L1109.0,154.7 M1115.0,187.1 L1115.2,187.7 L1115.3,188.4 L1115.4,189.0 L1115.5,189.7 L1115.7,190.4 L1115.8,191.0 L1115.9,191.7 L1116.0,192.4 L1116.1,193.0 L1116.3,193.7 L1116.4,194.3 L1116.5,195.0 L1116.6,195.7 L1116.8,196.3 L1116.9,197.0 L1117.0,197.6 L1117.1,198.3 L1117.2,199.0 L1117.4,199.6 L1117.5,200.3 L1117.6,201.0 L1117.7,201.6 L1117.9,202.3 L1118.0,202.9 L1118.1,203.6 L1118.2,204.3 L1118.3,204.9 L1118.5,205.6 L1118.6,206.2 L1118.7,206.9 L1118.8,207.6 L1119.0,208.2 L1119.1,208.9 L1119.2,209.6 L1119.3,210.2 L1119.4,210.9 L1119.6,211.5 L1119.7,212.2 L1119.8,212.9 M1125.9,246.7 L1126.1,247.3 L1126.2,248.0 L1126.3,248.7 L1126.4,249.3 L1126.5,250.0 L1126.7,250.7 L1126.8,251.3 L1126.9,252.0 L1127.0,252.6 L1127.1,253.3 L1127.2,254.0 L1127.4,254.6 L1127.5,255.3 L1127.6,256.0 L1127.7,256.6 L1127.8,257.3 L1128.0,258.0 L1128.1,258.6 L1128.2,259.3 L1128.3,259.9 L1128.4,260.6 L1128.5,261.3 L1128.7,261.9 L1128.8,262.6 L1128.9,263.3 L1129.0,263.9 L1129.1,264.6 L1129.2,265.3 L1129.4,265.9 L1129.5,266.6 L1129.6,267.3 L1129.7,267.9 L1129.8,268.6 L1129.9,269.3 L1130.1,269.9 L1130.2,270.6 L1130.3,271.2 L1130.4,271.9 L1130.5,272.6 L1130.6,273.2 L1130.8,273.9 L1130.9,274.6 L1131.0,275.2 L1131.1,275.9 L1131.2,276.6 M1138.0,316.5 L1138.1,317.1 L1138.2,317.8 L1138.3,318.5 L1138.4,319.1 L1138.5,319.8 L1138.6,320.5 L1138.7,321.1 L1138.8,321.8 L1138.9,322.5 L1139.0,323.1 L1139.2,323.8 L1139.3,324.5 L1139.4,325.1 L1139.5,325.8 L1139.6,326.5 L1139.7,327.1 L1139.8,327.8 L1139.9,328.5 L1140.0,329.1 L1140.1,329.8 L1140.2,330.5 L1140.3,331.1 L1140.4,331.8 L1140.5,332.5 L1140.7,333.1 L1140.8,333.8 L1140.9,334.4 L1141.0,335.1 L1141.1,335.8 L1141.2,336.4 L1141.3,337.1 L1141.4,337.8 L1141.5,338.4 L1141.6,339.1 L1141.7,339.8 L1141.8,340.4 M1148.0,381.1 L1148.1,381.7 L1148.2,382.4 L1148.2,383.1 L1148.3,383.7 L1148.4,384.4 L1148.5,385.1 L1148.6,385.7 L1148.7,386.4 L1148.8,387.1 L1148.9,387.7 L1149.0,388.4 L1149.1,389.1 L1149.2,389.7 L1149.3,390.4 L1149.4,391.1 L1149.5,391.7 L1149.6,392.4 L1149.7,393.1 L1149.8,393.7 L1149.9,394.4 L1149.9,395.1 L1150.0,395.7 L1150.1,396.4 L1150.2,397.1 L1150.3,397.7 L1150.4,398.4 L1150.5,399.1 L1150.6,399.7 L1150.7,400.4 L1150.8,401.1 L1150.9,401.7 L1151.0,402.4 L1151.1,403.1 L1151.1,403.7 L1151.2,404.4 L1151.3,405.0 L1151.4,405.7 M1157.1,450.3 L1157.1,451.0 L1157.2,451.6 L1157.3,452.3 L1157.4,453.0 L1157.4,453.6 L1157.5,454.3 L1157.6,455.0 L1157.7,455.6 L1157.7,456.3 L1157.8,457.0 L1157.9,457.6 L1158.0,458.3 L1158.1,459.0 L1158.1,459.6 L1158.2,460.3 L1158.3,460.9 L1158.4,461.6 L1158.4,462.3 L1158.5,462.9 L1158.6,463.6 L1158.6,464.3 L1158.7,464.9 L1158.8,465.6 L1158.9,466.3 L1158.9,466.9 L1159.0,467.6 L1159.1,468.3 L1159.2,468.9 L1159.2,469.6 L1159.3,470.3 L1159.4,470.9 L1159.5,471.6 L1159.5,472.2 L1159.6,472.9 L1159.7,473.6 L1159.8,474.2 L1159.8,474.9 M1165.3,520.1 L1165.3,520.7 L1165.4,521.4 L1165.5,522.1 L1165.6,522.7 L1165.7,523.4 L1165.8,524.1 L1165.9,524.7 L1166.0,525.4 L1166.1,526.1 L1166.2,526.7 L1166.3,527.4 L1166.4,528.1 L1166.5,528.7 L1166.6,529.4 L1166.7,530.1 L1166.8,530.7 L1166.9,531.4 L1167.0,532.0 L1167.1,532.7 L1167.2,533.4 L1167.3,534.0 L1167.4,534.7 L1167.5,535.4 L1167.6,536.0 L1167.7,536.7 L1167.8,537.4 L1167.9,538.0 L1168.0,538.7 L1168.1,539.4 L1168.2,540.0 L1168.3,540.7 L1168.4,541.3 L1168.5,542.0 L1168.6,542.7 L1168.8,543.3 L1168.9,544.0 L1169.0,544.7 M1176.0,590.0 L1176.1,590.7 L1176.2,591.3 L1176.3,592.0 L1176.4,592.7 L1176.4,593.3 L1176.5,594.0 L1176.6,594.7 L1176.7,595.4 L1176.8,596.0 L1176.9,596.7 L1176.9,597.4 L1177.0,598.0 L1177.1,598.7 L1177.2,599.4 L1177.2,600.1 L1177.3,600.7 L1177.4,601.4 L1177.5,602.1 L1177.5,602.7 L1177.6,603.4 L1177.7,604.1 L1177.8,604.7 L1177.8,605.4 L1177.9,606.1 L1178.0,606.8 L1178.0,607.4 L1178.1,608.1 L1178.2,608.8 L1178.2,609.5 L1178.3,610.1 L1178.4,610.8 L1178.4,611.5 L1178.5,612.1 L1178.5,612.8 L1178.6,613.5 L1178.7,614.2 L1178.7,614.8 M1181.7,656.6 L1181.8,657.3 L1181.8,657.9 L1181.9,658.6 L1181.9,659.3 L1182.0,660.0 L1182.0,660.6 L1182.1,661.3 L1182.1,662.0 L1182.2,662.6 L1182.2,663.3 L1182.3,664.0 L1182.3,664.7 L1182.4,665.3 L1182.5,666.0 L1182.5,666.7 L1182.6,667.3 L1182.6,668.0 L1182.7,668.7 L1182.7,669.3 L1182.8,670.0 L1182.9,670.7 L1182.9,671.4 L1183.0,672.0 L1183.1,672.7 L1183.1,673.4 L1183.2,674.0 L1183.3,674.7 L1183.3,675.4 L1183.4,676.0 L1183.5,676.7 L1183.5,677.4 L1183.6,678.1 L1183.7,678.7 L1183.8,679.4 L1183.8,680.1 L1183.9,680.7 L1184.0,681.4 M1191.9,724.3 L1192.1,725.0 L1192.3,725.6 L1192.5,726.3 L1192.7,726.9 L1192.9,727.6 L1193.1,728.2 L1193.3,728.9 L1193.5,729.5 L1193.7,730.1 L1193.9,730.8 L1194.1,731.4 L1194.3,732.1 L1194.5,732.7 L1194.7,733.4 L1194.9,734.0 L1195.1,734.7 L1195.3,735.3 L1195.5,736.0 L1195.7,736.6 L1196.0,737.3 L1196.2,737.9 L1196.4,738.6 L1196.6,739.2 L1196.8,739.8 L1197.0,740.5 L1197.2,741.1 L1197.4,741.8 L1197.6,742.4 L1197.8,743.1 L1198.0,743.7 L1198.1,744.4 L1198.3,745.0 L1198.5,745.7 L1198.7,746.3 L1198.8,747.0 L1199.0,747.6 M1204.6,788.0 L1204.6,788.7 L1204.7,789.3 L1204.8,790.0 L1204.8,790.7 L1204.9,791.3 L1205.0,792.0 L1205.0,792.7 L1205.1,793.3 L1205.2,794.0 L1205.3,794.7 L1205.3,795.3 L1205.4,796.0 L1205.5,796.7 L1205.6,797.4 L1205.7,798.0 L1205.7,798.7 L1205.8,799.4 L1205.9,800.0 L1206.0,800.7 L1206.1,801.4 L1206.2,802.0 L1206.3,802.7 L1206.4,803.4 L1206.5,804.0 L1206.6,804.7 L1206.7,805.4 L1206.8,806.0 L1206.9,806.7 L1207.0,807.3 L1207.1,808.0 L1207.2,808.7 L1207.3,809.3 L1207.4,810.0 L1207.5,810.7 L1207.6,811.3 M1214.5,852.3 L1214.6,852.9 L1214.7,853.6 L1214.8,854.2 L1215.0,854.9 L1215.1,855.6 L1215.2,856.2 L1215.3,856.9 L1215.5,857.5 L1215.6,858.2 L1215.7,858.8 L1215.8,859.5 L1216.0,860.2 L1216.1,860.8 L1216.2,861.5 L1216.3,862.1 L1216.5,862.8 L1216.6,863.4 L1216.7,864.1 L1216.8,864.8 L1217.0,865.4 L1217.1,866.1 L1217.2,866.7 L1217.3,867.4 L1217.5,868.0 L1217.6,868.7 L1217.7,869.3 L1217.9,870.0 L1218.0,870.7 L1218.1,871.3 L1218.3,872.0 L1218.4,872.6 L1218.5,873.3 L1218.6,873.9 L1218.8,874.6 L1218.9,875.2 L1219.0,875.9 L1219.2,876.6 L1219.3,877.2 L1219.4,877.9 M1228.0,917.2 L1228.2,917.9 L1228.3,918.6 L1228.5,919.2 L1228.6,919.9 L1228.8,920.5 L1229.0,921.2 L1229.1,921.9 L1229.3,922.5 L1229.4,923.2 L1229.6,923.8 L1229.7,924.5 L1229.9,925.1 L1230.0,925.8 L1230.2,926.5 L1230.4,927.1 L1230.5,927.8 L1230.7,928.4 L1230.8,929.1 L1231.0,929.8 L1231.2,930.4 L1231.3,931.1 L1231.5,931.7 L1231.6,932.4 L1231.8,933.1 L1232.0,933.7 L1232.1,934.4 L1232.3,935.0 L1232.4,935.7 L1232.6,936.4 L1232.8,937.0 L1232.9,937.7 L1233.1,938.4 L1233.3,939.0 L1233.4,939.7 L1233.6,940.3 L1233.8,941.0 L1233.9,941.7 M1243.9,975.6 L1244.1,976.3 L1244.3,976.9 L1244.6,977.5 L1244.8,978.2 L1245.0,978.8 L1245.2,979.4 L1245.5,980.1 L1245.7,980.7 L1245.9,981.4 L1246.2,982.0 L1246.4,982.6 L1246.6,983.3 L1246.9,983.9 L1247.1,984.5 L1247.4,985.1 L1247.6,985.8 L1247.9,986.4 L1248.1,987.0 L1248.4,987.7 L1248.6,988.3 L1248.9,988.9 L1249.1,989.5 L1249.4,990.2 L1249.6,990.8 L1249.9,991.4 L1250.2,992.0 L1250.4,992.6 L1250.7,993.3 L1251.0,993.9 L1251.2,994.5 L1251.5,995.1 L1251.8,995.7 L1252.0,996.3 L1252.3,997.0 L1252.6,997.6 L1252.9,998.2 L1253.2,998.8 L1253.4,999.4 L1253.7,1000.0 L1254.0,1000.6" fill="none" stroke="#000" stroke-opacity="0.39" stroke-width="5.3" stroke-linecap="butt"/>
<path d="M1270,1029.5 L1286,1044" fill="none" stroke="#333" stroke-width="5.3"/>
<path d="M1325,1053.5 H1337" fill="none" stroke="#000" stroke-opacity="0.7" stroke-width="5.3"/>
<path d="M191,19.8 H196.8 V63.0 H191 V31.4 H183.5 V27.9 L191,23.400000000000002 Z" fill="#000"/>
<rect x="213" y="58.0" width="5.6" height="5.6" fill="#000"/>
<text transform="translate(221.92,63.67) scale(1.0258,1)" style="font-size:62.96px" class="n">0</text>
<text transform="translate(259.42,63.67) scale(1.0258,1)" style="font-size:62.96px" class="n">0</text>
<text transform="translate(173.42,567.38) scale(1.0421,1)" style="font-size:61.97px" class="n">0</text>
<rect x="213" y="561.7" width="5.6" height="5.6" fill="#000"/>
<text transform="translate(221.92,567.38) scale(1.0421,1)" style="font-size:61.97px" class="n">5</text>
<text transform="translate(259.42,567.38) scale(1.0421,1)" style="font-size:61.97px" class="n">0</text>
<text transform="translate(173.42,1077.37) scale(1.0304,1)" style="font-size:62.68px" class="n">0</text>
<rect x="213" y="1071.7" width="5.6" height="5.6" fill="#000"/>
<text transform="translate(221.92,1077.37) scale(1.0304,1)" style="font-size:62.68px" class="n">0</text>
<text transform="translate(259.42,1077.37) scale(1.0304,1)" style="font-size:62.68px" class="n">0</text>
<path d="M336.0,1167.4 H341.8 V1210.7 H336.0 V1179.0 H328.5 V1175.5 L336.0,1171.0 Z" fill="#000"/>
<text transform="translate(358.36,1210.70) scale(0.9046,1)" style="font-size:65.51px" class="n">E</text>
<path d="M397.5,1195.3 H427.8 V1200.7 H397.5 Z M412.0,1182.6 H417.0 V1210.7 H412.0 Z" fill="#404040"/>
<text transform="translate(430.28,1211.83) scale(1.0177,1)" style="font-size:66.90px" class="n">3</text>
<path d="M589.0,1167.4 H594.8 V1210.7 H589.0 V1179.0 H581.5 V1175.5 L589.0,1171.0 Z" fill="#000"/>
<text transform="translate(611.26,1210.70) scale(0.9046,1)" style="font-size:65.51px" class="n">E</text>
<path d="M655.5,1195.3 H686.0 V1200.7 H655.5 Z M669.0,1182.6 H674.0 V1210.7 H669.0 Z" fill="#404040"/>
<text transform="translate(683.28,1211.83) scale(1.0177,1)" style="font-size:66.90px" class="n">4</text>
<path d="M847.0,1167.4 H852.8 V1210.7 H847.0 V1179.0 H839.5 V1175.5 L847.0,1171.0 Z" fill="#000"/>
<text transform="translate(863.26,1210.70) scale(0.9046,1)" style="font-size:65.51px" class="n">E</text>
<path d="M908.5,1195.3 H940.0 V1200.7 H908.5 Z M922.0,1182.6 H927.0 V1210.7 H922.0 Z" fill="#404040"/>
<text transform="translate(941.28,1211.83) scale(1.0177,1)" style="font-size:66.90px" class="n">5</text>
<path d="M1099.0,1167.4 H1104.8 V1210.7 H1099.0 V1179.0 H1091.5 V1175.5 L1099.0,1171.0 Z" fill="#000"/>
<text transform="translate(1116.46,1210.70) scale(0.9046,1)" style="font-size:65.51px" class="n">E</text>
<path d="M1161.0,1195.3 H1190.8 V1200.7 H1161.0 Z M1175.0,1182.6 H1180.0 V1210.7 H1175.0 Z" fill="#404040"/>
<text transform="translate(1193.28,1211.83) scale(1.0177,1)" style="font-size:66.90px" class="n">6</text>
<path d="M1352.0,1167.4 H1357.8 V1210.7 H1352.0 V1179.0 H1344.5 V1175.5 L1352.0,1171.0 Z" fill="#000"/>
<text transform="translate(1368.26,1210.70) scale(0.9046,1)" style="font-size:65.51px" class="n">E</text>
<path d="M1413.5,1195.3 H1445.0 V1200.7 H1413.5 Z M1427.0,1182.6 H1432.0 V1210.7 H1427.0 Z" fill="#404040"/>
<text transform="translate(1446.28,1211.83) scale(1.0177,1)" style="font-size:66.90px" class="n">7</text>
<text transform="translate(629.37,1286.76) scale(0.9411,1)" style="font-size:70.21px" class="b">Molecular Weight</text>
<text transform="translate(74.31,756.13) rotate(-90) scale(0.9728,1)" style="font-size:67.55px" class="b">dW/dlog(MW)</text>
<text transform="translate(686.15,106.20) scale(1.0042,1)" style="font-size:49.04px" class="b">Experimental</text>
<text transform="translate(685.81,202.31) scale(0.9960,1)" style="font-size:49.05px" class="b">Theoretical</text>
</svg>
</body></html>
